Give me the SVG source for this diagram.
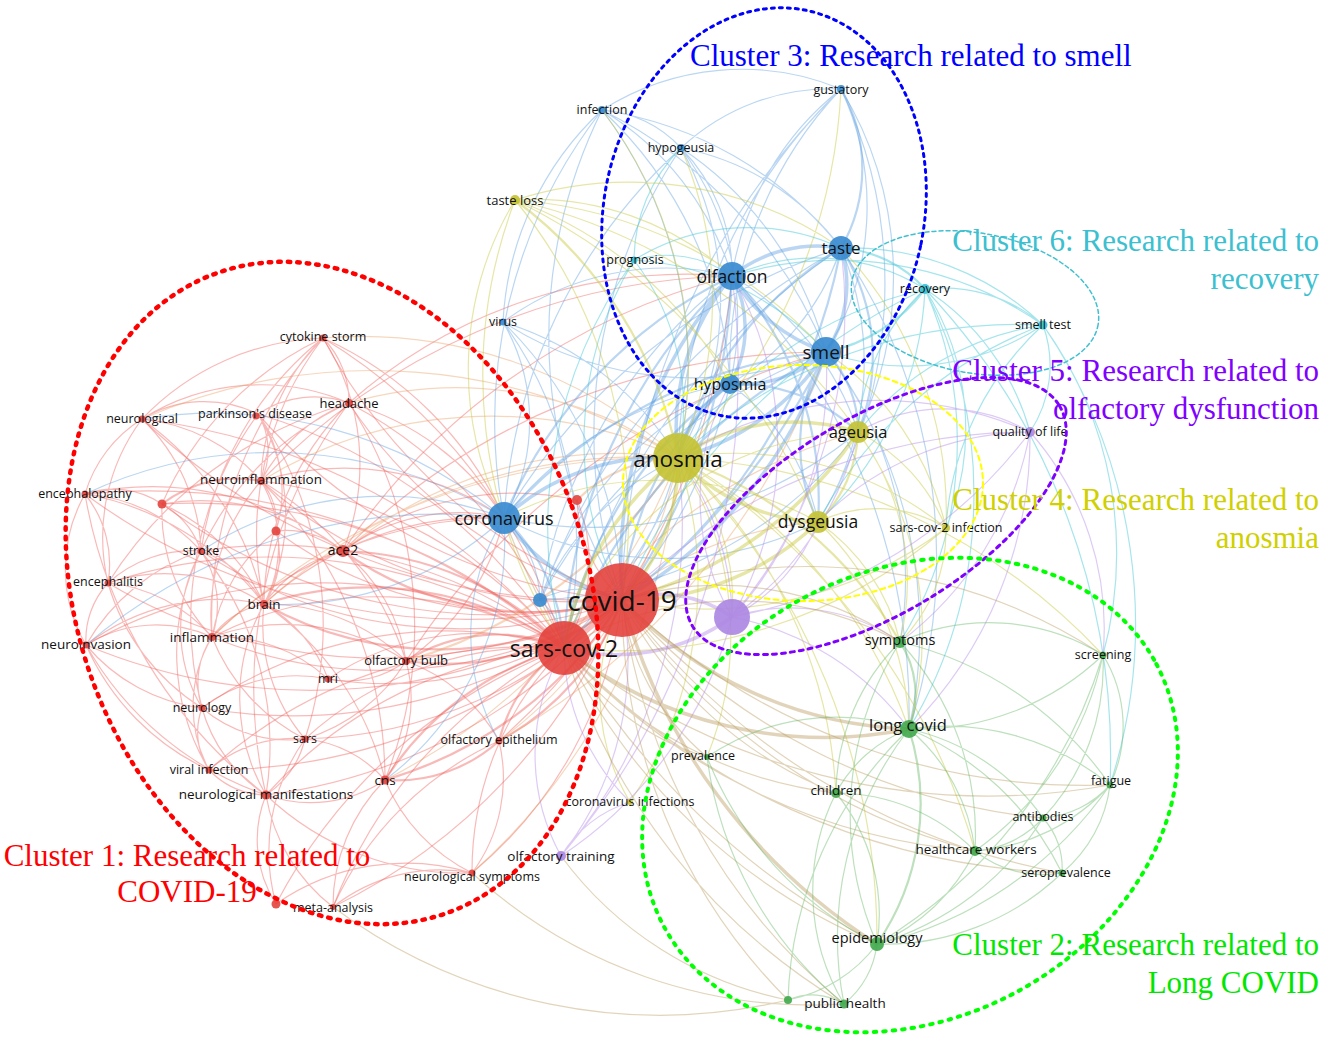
<svg xmlns="http://www.w3.org/2000/svg" width="1325" height="1042" viewBox="0 0 1325 1042">
<style>
.e path{fill:none;stroke-width:1.2}
.e path.w{stroke-width:3.5}
.e path.m{stroke-width:2.2}
.er path{stroke:#ef5a55;stroke-opacity:.42}
.ex path{stroke:#e89a5c;stroke-opacity:.4}
.eb path{stroke:#5a9de0;stroke-opacity:.42}
.ey path{stroke:#c8c83c;stroke-opacity:.45}
.eg path{stroke:#62b462;stroke-opacity:.42}
.ec path{stroke:#45c8d8;stroke-opacity:.48}
.ep path{stroke:#b48ce8;stroke-opacity:.45}
.eo path{stroke:#b8985a;stroke-opacity:.42}
text{font-family:"Open Sans","DejaVu Sans",sans-serif;fill:#111;text-anchor:middle}
.s12{font-size:12.5px}.s13{font-size:13px}.s135{font-size:13.5px}.s14{font-size:14px}.s145{font-size:14.5px}.s16{font-size:16px}.s165{font-size:16.5px}.s17{font-size:17px}
.nr{fill:#e3423d;fill-opacity:.9}
.nb{fill:#3a8bd0;fill-opacity:.92}
.ny{fill:#c4c232;fill-opacity:.9}
.ng{fill:#3fa84a;fill-opacity:.9}
.np{fill:#ad88e2;fill-opacity:.92}
.nc{fill:#35c2d6;fill-opacity:.92}
.cl{fill:none;stroke-linecap:round}
text.ct{font-family:"Liberation Serif","Times New Roman",serif;font-size:31px}
text.c1{fill:#ff0000}
text.c2{fill:#00e600;text-anchor:end}
text.c3{fill:#0000ff;text-anchor:start}
text.c4{fill:#d0d000;text-anchor:end}
text.c5{fill:#7f00ff;text-anchor:end}
text.c6{fill:#3cc0d0;text-anchor:end}
</style>
<g id="connectors" class="e">
<g class="er">
<path class="w" d="M622 600L564 648"/>
<path d="M622 600A561 561 0 0 1 323 338M622 600A470 470 0 0 1 349 403M622 600A661 661 0 0 1 142 419M622 600A550 550 0 0 1 258 414M622 600A480 480 0 0 1 261 481M622 600A643 643 0 0 1 85 494M622 600A556 556 0 0 1 162 504M622 600A415 415 0 0 1 276 531M622 600A470 470 0 0 1 201 551M622 600A531 531 0 0 1 108 583M622 600A581 581 0 0 1 86 645M622 600A447 447 0 0 1 212 637M622 600A373 373 0 0 1 328 679M622 600A528 528 0 0 1 202 708M622 600A456 456 0 0 1 305 739M622 600A583 583 0 0 1 209 770M622 600A551 551 0 0 1 266 795M622 600A596 596 0 0 1 333 907M622 600A423 423 0 0 1 472 873M622 600A145 145 0 0 1 577 500"/>
<path class="m" d="M622 600A328 328 0 0 1 343 551M622 600A362 362 0 0 1 264 604M622 600A277 277 0 0 1 406 661M622 600A264 264 0 0 1 499 741M622 600A417 417 0 0 1 385 780"/>
<path d="M564 648A551 551 0 0 0 323 338M564 648A460 460 0 0 0 349 403M564 648A651 651 0 0 0 142 419M564 648A540 540 0 0 0 258 414M564 648A470 470 0 0 0 261 481M564 648A633 633 0 0 0 85 494M564 648A546 546 0 0 0 162 504M564 648A460 460 0 0 0 201 551M564 648A521 521 0 0 0 108 583M564 648A481 481 0 0 0 86 645M564 648A363 363 0 0 0 212 637M564 648A267 267 0 0 0 328 679M564 648A422 422 0 0 0 202 708M564 648A350 350 0 0 0 305 739M564 648A477 477 0 0 0 209 770M564 648A445 445 0 0 0 266 795M564 648A490 490 0 0 0 333 907M564 648A317 317 0 0 0 472 873M564 648A544 544 0 0 0 276 904M577 500A161 161 0 0 1 564 648"/>
<path class="m" d="M564 648A318 318 0 0 0 343 551M564 648A344 344 0 0 0 264 604M564 648A171 171 0 0 0 406 661M564 648A158 158 0 0 0 499 741M564 648A311 311 0 0 0 385 780"/>
<path d="M142 419A121 121 0 0 1 258 414M142 419A132 132 0 0 0 85 494M142 419A191 191 0 0 1 201 551M142 419A181 181 0 0 1 261 481M142 419A223 223 0 0 1 349 403M142 419A198 198 0 0 0 108 583M142 419A307 307 0 0 1 264 604M323 338A91 91 0 0 1 349 403M323 338A205 205 0 0 0 261 481M323 338A335 335 0 0 0 201 551M323 338A327 327 0 0 0 162 504M323 338A233 233 0 0 1 343 551M323 338A325 325 0 0 0 264 604M323 338A410 410 0 0 0 212 637M323 338A262 262 0 0 0 142 419M349 403A166 166 0 0 0 261 481M349 403A102 102 0 0 0 258 414M349 403A286 286 0 0 0 264 604M349 403A296 296 0 0 0 201 551M349 403A421 421 0 0 0 108 583M349 403A475 475 0 0 0 266 795M349 403A413 413 0 0 1 385 780M258 414A70 70 0 0 1 261 481M258 414A135 135 0 0 1 276 531M258 414A196 196 0 0 1 264 604M258 414A350 350 0 0 0 202 708M258 414A372 372 0 0 1 305 739M261 481A65 65 0 0 1 276 531M261 481A126 126 0 0 1 264 604M261 481A205 205 0 0 0 212 637M261 481A423 423 0 0 1 385 780M261 481A325 325 0 0 1 406 661M85 494A87 87 0 0 1 162 504M85 494A173 173 0 0 1 201 551M85 494A112 112 0 0 1 108 583M85 494A289 289 0 0 1 264 604M85 494A152 152 0 0 0 86 645M85 494A482 482 0 0 0 266 795M85 494A315 315 0 0 1 343 551M162 504A86 86 0 0 1 201 551M162 504A202 202 0 0 1 264 604M162 504A183 183 0 0 0 212 637M162 504A228 228 0 0 1 343 551M276 531A85 85 0 0 1 264 604M276 531A87 87 0 0 1 343 551M276 531A170 170 0 0 0 212 637M201 551A125 125 0 0 0 108 583M201 551A116 116 0 0 1 264 604M201 551A97 97 0 0 1 212 637M201 551A209 209 0 0 0 86 645M201 551A158 158 0 0 0 202 708M201 551A309 309 0 0 1 266 795M201 551A227 227 0 0 0 209 770M108 583A84 84 0 0 0 86 645M108 583A177 177 0 0 1 264 604M108 583A158 158 0 0 1 212 637M108 583A219 219 0 0 0 202 708M264 604A85 85 0 0 0 212 637M264 604A199 199 0 0 1 406 661M264 604A139 139 0 0 1 328 679M264 604A176 176 0 0 0 305 739M264 604A297 297 0 0 1 385 780M264 604A193 193 0 0 0 266 795M264 604A132 132 0 0 1 343 551M86 645A134 134 0 0 1 212 637M86 645A179 179 0 0 0 202 708M86 645A248 248 0 0 0 209 770M86 645A330 330 0 0 0 266 795M86 645A219 219 0 0 1 264 604M212 637A218 218 0 0 1 406 661M212 637A81 81 0 0 0 202 708M212 637A158 158 0 0 1 328 679M212 637A195 195 0 0 0 305 739M212 637A136 136 0 0 0 209 770M406 661A96 96 0 0 1 328 679M406 661A173 173 0 0 1 499 741M406 661A140 140 0 0 1 385 780M406 661A173 173 0 0 0 343 551M406 661A179 179 0 0 1 305 739M202 708A134 134 0 0 0 305 739M202 708A69 69 0 0 0 209 770M202 708A151 151 0 0 0 266 795M202 708A155 155 0 0 1 328 679M305 739A121 121 0 0 1 385 780M305 739A95 95 0 0 1 266 795M305 739A127 127 0 0 0 209 770M499 741A159 159 0 0 1 472 873M209 770A82 82 0 0 0 266 795M385 780A134 134 0 0 1 266 795M385 780A180 180 0 0 0 472 873M266 795A179 179 0 0 0 333 907M266 795A119 119 0 0 0 276 904M266 795A284 284 0 0 0 472 873M333 907A173 173 0 0 1 472 873M276 904A227 227 0 0 1 472 873M333 907A179 179 0 0 1 385 780M276 904A194 194 0 0 1 305 739M333 907A332 332 0 0 1 499 741M343 551A285 285 0 0 1 577 500"/>
<path class="m" d="M261 481A122 122 0 0 0 162 504M499 741A153 153 0 0 1 385 780"/>
<path d="M261 481A280 280 0 0 1 504 518M349 403A270 270 0 0 1 504 518M323 338A361 361 0 0 1 504 518M343 551A194 194 0 0 1 504 518M406 661A241 241 0 0 0 504 518M264 604A326 326 0 0 1 504 518M212 637A411 411 0 0 1 504 518M261 481A676 676 0 0 1 732 276M349 403A510 510 0 0 1 732 276M343 551A664 664 0 0 1 732 276M343 551A682 682 0 0 1 826 352M406 661A729 729 0 0 1 826 352M499 741A698 698 0 0 0 732 276"/>
</g>
<g class="ex">
<path class="m" d="M577 500A143 143 0 0 1 678 458M406 661A475 475 0 0 0 678 458"/>
<path d="M261 481A440 440 0 0 1 678 458M349 403A384 384 0 0 1 678 458M499 741A462 462 0 0 0 678 458M323 338A475 475 0 0 1 678 458M264 604A560 560 0 0 1 678 458M385 780A615 615 0 0 0 678 458M142 419A575 575 0 0 1 678 458M564 648A510 510 0 0 1 858 432M564 648A380 380 0 0 1 818 522M499 741A716 716 0 0 0 826 352M343 551A430 430 0 0 1 678 458M472 873A620 620 0 0 0 678 458M212 637A650 650 0 0 1 678 458"/>
</g>
<g class="eb">
<path class="w" d="M732 276A137 137 0 0 1 841 248M732 276A170 170 0 0 0 826 352M732 276A110 110 0 0 1 730 384M841 248A119 119 0 0 1 826 352M826 352A128 128 0 0 1 730 384M732 276A236 236 0 0 0 678 458M826 352A254 254 0 0 1 678 458M730 384A126 126 0 0 0 678 458M732 276A434 434 0 0 0 622 600M826 352A452 452 0 0 1 622 600M504 518A200 200 0 0 0 622 600M504 518A234 234 0 0 1 678 458"/>
<path class="m" d="M841 89A159 159 0 0 1 841 248M841 248A201 201 0 0 1 858 432M826 352A112 112 0 0 1 858 432M826 352A178 178 0 0 0 818 522M564 648A540 540 0 0 1 732 276M564 648A558 558 0 0 1 826 352M730 384A324 324 0 0 0 622 600M841 248A571 571 0 0 1 622 600M504 518A190 190 0 0 1 564 648M564 648A430 430 0 0 1 730 384M504 518A470 470 0 0 1 732 276M504 518A488 488 0 0 1 826 352M841 248A373 373 0 0 0 678 458M622 600A600 600 0 0 0 732 276M622 600A700 700 0 0 0 826 352M732 276A332 332 0 0 1 818 522M730 384A176 176 0 0 1 858 432"/>
<path d="M841 248A247 247 0 0 1 730 384M504 518A607 607 0 0 1 841 248M504 518A360 360 0 0 1 730 384M504 518A197 197 0 0 0 503 322M504 518A506 506 0 0 1 602 110M504 518A547 547 0 0 1 681 148M540 600A82 82 0 0 1 622 600M540 600A516 516 0 0 1 732 276M540 600A534 534 0 0 1 826 352M540 600A653 653 0 0 1 841 248M540 600A72 72 0 0 1 564 648M540 600A280 280 0 0 1 678 458M540 600A118 118 0 0 0 504 518M540 600A380 380 0 0 1 730 384M602 110A296 296 0 0 1 732 276M602 110A377 377 0 0 1 841 248M602 110A466 466 0 0 1 826 352M602 110A117 117 0 0 1 681 148M602 110A260 260 0 0 1 841 89M602 110A510 510 0 0 0 622 600M602 110A402 402 0 0 1 730 384M602 110A311 311 0 0 0 503 322M602 110A424 424 0 0 1 678 458M841 89A296 296 0 0 0 732 276M841 89A278 278 0 0 1 826 352M841 89A406 406 0 0 0 730 384M841 89A532 532 0 0 0 678 458M841 89A219 219 0 0 0 681 148M841 89A730 730 0 0 0 622 600M841 89A456 456 0 0 1 818 522M841 89A360 360 0 0 1 858 432M681 148A179 179 0 0 1 732 276M681 148A260 260 0 0 1 841 248M681 148A349 349 0 0 1 826 352M681 148A285 285 0 0 1 730 384M681 148A313 313 0 0 1 678 458M681 148A511 511 0 0 0 622 600M503 322A397 397 0 0 1 622 600M503 322A387 387 0 0 1 564 648M503 322A275 275 0 0 1 732 276M503 322A353 353 0 0 0 826 352M503 322A311 311 0 0 1 678 458M841 248A297 297 0 0 1 818 522M732 276A282 282 0 0 1 858 432M730 384A226 226 0 0 1 818 522M564 648A677 677 0 0 1 841 248M826 352A460 460 0 0 1 909 729M826 352A364 364 0 0 1 900 642M841 248A549 549 0 0 1 909 729M732 276A630 630 0 0 1 909 729M504 518A455 455 0 0 0 142 419M504 518A443 443 0 0 0 85 494M504 518A336 336 0 0 0 201 551M504 518A326 326 0 0 1 264 604M504 518A545 545 0 0 0 86 645M504 518A302 302 0 0 1 385 780M504 518A218 218 0 0 0 499 741M564 648A380 380 0 0 0 678 458M540 600A420 420 0 0 0 858 432M564 648A620 620 0 0 0 732 276M622 600A520 520 0 0 0 730 384M504 518A420 420 0 0 0 858 432M504 518A340 340 0 0 0 818 522"/>
</g>
<g class="ec">
<path class="m" d="M841 248A125 125 0 0 1 925 289M826 352A162 162 0 0 0 925 289"/>
<path d="M732 276A206 206 0 0 1 925 289M841 248A279 279 0 0 1 1043 325M826 352A244 244 0 0 0 1043 325M732 276A360 360 0 0 1 1043 325M634 260A114 114 0 0 1 732 276M634 260A219 219 0 0 1 841 248M634 260A284 284 0 0 1 826 352M634 260A242 242 0 0 1 678 458M634 260A352 352 0 0 0 622 600M634 260A458 458 0 0 0 564 648M681 148A159 159 0 0 0 634 260M925 289A416 416 0 0 0 678 458M925 289A614 614 0 0 0 622 600M925 289A210 210 0 0 0 858 432M925 289A340 340 0 0 1 818 522M925 289A154 154 0 0 1 1043 325M925 289A248 248 0 0 1 1030 432M1043 325A292 292 0 0 0 858 432M1043 325A422 422 0 0 0 818 522M1043 325A498 498 0 0 0 678 458M1043 325A120 120 0 0 1 1030 432M1043 325A390 390 0 0 1 1103 655M925 289A456 456 0 0 1 909 729M925 289A378 378 0 0 1 900 642M925 289A681 681 0 0 1 1110 785M1043 325A527 527 0 0 1 1110 785M925 289A260 260 0 0 1 946 528M1043 325A300 300 0 0 0 946 528"/>
</g>
<g class="ey">
<path class="w" d="M678 458A198 198 0 0 1 622 600M678 458A304 304 0 0 0 564 648M678 458A206 206 0 0 1 858 432M678 458A204 204 0 0 0 818 522M858 432A404 404 0 0 1 622 600M818 522A274 274 0 0 1 622 600"/>
<path class="m" d="M858 432A130 130 0 0 1 818 522M678 458A406 406 0 0 1 900 642M515 200A421 421 0 0 1 678 458"/>
<path d="M515 200A507 507 0 0 1 622 600M515 200A497 497 0 0 0 564 648M515 200A293 293 0 0 1 732 276M515 200A374 374 0 0 1 841 248M515 200A463 463 0 0 1 826 352M515 200A329 329 0 0 0 504 518M515 200A575 575 0 0 1 858 432M515 200A625 625 0 0 1 818 522M515 200A399 399 0 0 1 730 384M946 528A338 338 0 0 0 678 458M946 528A396 396 0 0 1 622 600M946 528A184 184 0 0 0 858 432M946 528A134 134 0 0 0 818 522M946 528A296 296 0 0 0 826 352M946 528A385 385 0 0 0 841 248M946 528A502 502 0 0 1 564 648M946 528A158 158 0 0 1 900 642M678 458A213 213 0 0 1 732 617M678 458A502 502 0 0 1 909 729M818 522A202 202 0 0 1 900 642M858 432A252 252 0 0 1 900 642M818 522A298 298 0 0 1 909 729M858 432A348 348 0 0 1 909 729M630 802A392 392 0 0 0 678 458M630 802A210 210 0 0 1 622 600M707 757A324 324 0 0 0 678 458M678 458A493 493 0 0 1 836 793M678 458A685 685 0 0 1 877 944M678 458A690 690 0 0 1 975 851M678 458A622 622 0 0 1 1103 655M678 458A420 420 0 0 0 602 110M678 458A560 560 0 0 0 841 89M678 458A380 380 0 0 0 681 148M858 432A320 320 0 0 0 564 648M818 522A330 330 0 0 0 504 518"/>
</g>
<g class="ep">
<path class="w" d="M732 617A127 127 0 0 0 622 600M732 617A199 199 0 0 1 564 648"/>
<path d="M732 617A311 311 0 0 0 858 432M732 617A181 181 0 0 0 818 522M858 432A172 172 0 0 1 1030 432M818 522A302 302 0 0 1 1030 432M678 458A378 378 0 0 1 1030 432M732 617A483 483 0 0 0 1030 432M732 617A410 410 0 0 1 561 856M561 856A317 317 0 0 0 622 600M561 856A211 211 0 0 1 564 648M561 856A515 515 0 0 0 678 458M561 856A751 751 0 0 0 732 276M732 617A359 359 0 0 0 826 352M732 617A341 341 0 0 0 732 276M732 617A235 235 0 0 1 730 384M732 617A478 478 0 0 0 841 248M732 617A289 289 0 0 1 909 729M732 617A193 193 0 0 1 900 642M1030 432A414 414 0 0 1 909 729M1030 432A340 340 0 0 1 900 642M1030 432A296 296 0 0 1 1103 655M1030 432A576 576 0 0 0 622 600M630 802A123 123 0 0 0 561 856M630 802A220 220 0 0 1 564 648M732 617A270 270 0 0 0 678 458"/>
</g>
<g class="eo">
<path class="w" d="M622 600A416 416 0 0 0 909 729M622 600A599 599 0 0 0 877 944M564 648A426 426 0 0 0 909 729"/>
<path d="M622 600A320 320 0 0 1 900 642M622 600A536 536 0 0 1 1103 655M622 600A407 407 0 0 0 836 793M622 600A673 673 0 0 0 1110 785M622 600A639 639 0 0 0 1043 818M622 600A604 604 0 0 0 975 851M622 600A713 713 0 0 0 1062 873M622 600A626 626 0 0 0 844 1004M622 600A566 566 0 0 0 788 1000M622 600A242 242 0 0 0 707 757M564 648A609 609 0 0 0 877 944M564 648A614 614 0 0 0 975 851M564 648A417 417 0 0 0 836 793M564 648A636 636 0 0 0 844 1004M564 648A342 342 0 0 1 900 642M564 648A683 683 0 0 0 1110 785M564 648A723 723 0 0 0 1062 873M564 648A252 252 0 0 0 707 757M472 873A503 503 0 0 0 844 1004M561 856A371 371 0 0 0 788 1000M504 518A799 799 0 0 0 877 944M788 1000A548 548 0 0 1 333 907"/>
</g>
<g class="eg">
<path class="m" d="M900 642A96 96 0 0 1 909 729M909 729A247 247 0 0 1 877 944"/>
<path d="M900 642A216 216 0 0 1 1103 655M900 642A353 353 0 0 1 1110 785M900 642A325 325 0 0 0 877 944M900 642A215 215 0 0 0 836 793M900 642A284 284 0 0 1 975 851M909 729A137 137 0 0 0 836 793M909 729A257 257 0 0 1 1110 785M909 729A223 223 0 0 1 1043 818M909 729A188 188 0 0 1 975 851M909 729A340 340 0 0 0 844 1004M909 729A268 268 0 0 0 1103 655M909 729A297 297 0 0 1 1062 873M909 729A392 392 0 0 0 788 1000M836 793A192 192 0 0 1 877 944M836 793A197 197 0 0 1 975 851M836 793A219 219 0 0 0 844 1004M975 851A101 101 0 0 0 1043 818M975 851A109 109 0 0 0 1062 873M975 851A191 191 0 0 1 877 944M975 851A201 201 0 0 0 1110 785M1043 818A74 74 0 0 1 1062 873M1043 818A223 223 0 0 0 1103 655M1110 785A137 137 0 0 0 1103 655M877 944A93 93 0 0 1 844 1004M877 944A145 145 0 0 1 788 1000M788 1000A60 60 0 0 1 844 1004M877 944A292 292 0 0 0 1043 818M877 944A256 256 0 0 0 1062 873M1103 655A515 515 0 0 1 877 944M1110 785A392 392 0 0 1 877 944M707 757A230 230 0 0 1 909 729M707 757A357 357 0 0 0 877 944M707 757A384 384 0 0 0 844 1004M1110 785A100 100 0 0 1 1043 818M1062 873A136 136 0 0 0 1110 785M1103 655A324 324 0 0 1 975 851"/>
</g>
</g>
<g id="node-covid-19"><circle class="nr" cx="622" cy="600" r="37"/><text x="622" y="611" style="font-size:28px">covid-19</text></g>
<g id="node-sars-cov-2"><circle class="nr" cx="564" cy="648" r="27"/><text x="564" y="657" style="font-size:23px">sars-cov-2</text></g>
<g id="node-ace2"><circle class="nr" cx="343" cy="551" r="6"/><text class="s14" x="343" y="555">ace2</text></g>
<g id="node-red-a"><circle class="nr" cx="577" cy="500" r="5"/></g>
<g id="node-red-b"><circle class="nr" cx="162" cy="504" r="4.5"/></g>
<g id="node-red-c"><circle class="nr" cx="276" cy="531" r="4.5"/></g>
<g id="node-red-d"><circle class="nr" cx="276" cy="904" r="4.5"/></g>
<g id="node-cytokine-storm"><circle class="nr" cx="323" cy="338" r="3.5"/><text class="s12" x="323" y="341">cytokine storm</text></g>
<g id="node-headache"><circle class="nr" cx="349" cy="403" r="4"/><text class="s13" x="349" y="408">headache</text></g>
<g id="node-neurological"><circle class="nr" cx="142" cy="419" r="3.5"/><text class="s12" x="142" y="423">neurological</text></g>
<g id="node-parkinsons-disease"><circle class="nr" cx="256" cy="416" r="3.5"/><text class="s12" x="255" y="418">parkinson's disease</text></g>
<g id="node-neuroinflammation"><circle class="nr" cx="261" cy="481" r="4"/><text class="s135" x="261" y="484">neuroinflammation</text></g>
<g id="node-encephalopathy"><circle class="nr" cx="85" cy="494" r="3.5"/><text class="s12" x="85" y="498">encephalopathy</text></g>
<g id="node-stroke"><circle class="nr" cx="201" cy="551" r="3.5"/><text class="s12" x="201" y="555">stroke</text></g>
<g id="node-encephalitis"><circle class="nr" cx="108" cy="583" r="3.5"/><text class="s12" x="108" y="586">encephalitis</text></g>
<g id="node-brain"><circle class="nr" cx="264" cy="604" r="4"/><text class="s135" x="264" y="609">brain</text></g>
<g id="node-neuroinvasion"><circle class="nr" cx="86" cy="645" r="3.5"/><text class="s135" x="86" y="649">neuroinvasion</text></g>
<g id="node-inflammation"><circle class="nr" cx="212" cy="637" r="4"/><text class="s135" x="212" y="642">inflammation</text></g>
<g id="node-olfactory-bulb"><circle class="nr" cx="406" cy="661" r="4"/><text class="s13" x="406" y="665">olfactory bulb</text></g>
<g id="node-mri"><circle class="nr" cx="328" cy="679" r="3.5"/><text class="s12" x="328" y="683">mri</text></g>
<g id="node-neurology"><circle class="nr" cx="202" cy="708" r="3.5"/><text class="s12" x="202" y="712">neurology</text></g>
<g id="node-sars"><circle class="nr" cx="305" cy="739" r="3.5"/><text class="s12" x="305" y="743">sars</text></g>
<g id="node-olfactory-epithelium"><circle class="nr" cx="499" cy="741" r="3.5"/><text class="s12" x="499" y="744">olfactory epithelium</text></g>
<g id="node-viral-infection"><circle class="nr" cx="209" cy="770" r="3.5"/><text class="s12" x="209" y="774">viral infection</text></g>
<g id="node-cns"><circle class="nr" cx="385" cy="780" r="4.5"/><text class="s135" x="385" y="785">cns</text></g>
<g id="node-neurological-manifestations"><circle class="nr" cx="266" cy="795" r="4.5"/><text class="s135" x="266" y="799">neurological manifestations</text></g>
<g id="node-meta-analysis"><circle class="nr" cx="333" cy="907" r="3"/><text class="s12" x="333" y="912">meta-analysis</text></g>
<g id="node-neurological-symptoms"><circle class="nr" cx="472" cy="873" r="3.5"/><text class="s12" x="472" y="881">neurological symptoms</text></g>
<g id="node-coronavirus"><circle class="nb" cx="504" cy="518" r="16"/><text x="504" y="525" style="font-size:18px">coronavirus</text></g>
<g id="node-blue-a"><circle class="nb" cx="540" cy="600" r="7"/></g>
<g id="node-olfaction"><circle class="nb" cx="732" cy="276" r="14"/><text x="732" y="283" style="font-size:17.5px">olfaction</text></g>
<g id="node-taste"><circle class="nb" cx="841" cy="248" r="12"/><text class="s17" x="841" y="254">taste</text></g>
<g id="node-smell"><circle class="nb" cx="826" cy="352" r="15"/><text x="826" y="359" style="font-size:19px">smell</text></g>
<g id="node-hyposmia"><circle class="nb" cx="730" cy="384" r="10"/><text class="s16" x="730" y="390">hyposmia</text></g>
<g id="node-infection"><circle class="nb" cx="602" cy="110" r="4"/><text class="s12" x="602" y="114">infection</text></g>
<g id="node-gustatory"><circle class="nb" cx="841" cy="89" r="4"/><text class="s12" x="841" y="94">gustatory</text></g>
<g id="node-hypogeusia"><circle class="nb" cx="681" cy="148" r="4"/><text class="s12" x="681" y="152">hypogeusia</text></g>
<g id="node-virus"><circle class="nb" cx="503" cy="322" r="3.5"/><text class="s12" x="503" y="326">virus</text></g>
<g id="node-prognosis"><circle class="nc" cx="634" cy="260" r="3.5"/><text class="s12" x="635" y="264">prognosis</text></g>
<g id="node-recovery"><circle class="nc" cx="925" cy="289" r="5"/><text class="s12" x="925" y="293">recovery</text></g>
<g id="node-smell-test"><circle class="nc" cx="1043" cy="325" r="4.5"/><text class="s12" x="1043" y="329">smell test</text></g>
<g id="node-anosmia"><circle class="ny" cx="678" cy="458" r="25"/><text x="678" y="467" style="font-size:22.5px">anosmia</text></g>
<g id="node-ageusia"><circle class="ny" cx="858" cy="432" r="11"/><text class="s165" x="858" y="438">ageusia</text></g>
<g id="node-dysgeusia"><circle class="ny" cx="818" cy="522" r="11"/><text x="818" y="528" style="font-size:17.5px">dysgeusia</text></g>
<g id="node-sars-cov-2-infection"><circle class="ny" cx="946" cy="528" r="4"/><text class="s12" x="946" y="532">sars-cov-2 infection</text></g>
<g id="node-taste-loss"><circle class="ny" cx="515" cy="200" r="5"/><text class="s13" x="515" y="205">taste loss</text></g>
<g id="node-coronavirus-infections"><circle class="ny" cx="630" cy="802" r="3"/><text class="s12" x="630" y="806">coronavirus infections</text></g>
<g id="node-purple-a"><circle class="np" cx="732" cy="617" r="18"/></g>
<g id="node-quality-of-life"><circle class="np" cx="1030" cy="432" r="5"/><text class="s12" x="1030" y="436">quality of life</text></g>
<g id="node-olfactory-training"><circle class="np" cx="561" cy="856" r="5"/><text class="s135" x="561" y="861">olfactory training</text></g>
<g id="node-symptoms"><circle class="ng" cx="900" cy="642" r="6"/><text class="s145" x="900" y="645">symptoms</text></g>
<g id="node-long-covid"><circle class="ng" cx="909" cy="729" r="9"/><text class="s165" x="908" y="731">long covid</text></g>
<g id="node-screening"><circle class="ng" cx="1103" cy="655" r="3.5"/><text class="s12" x="1103" y="659">screening</text></g>
<g id="node-children"><circle class="ng" cx="836" cy="793" r="5"/><text class="s135" x="836" y="795">children</text></g>
<g id="node-fatigue"><circle class="ng" cx="1110" cy="785" r="3.5"/><text class="s12" x="1111" y="785">fatigue</text></g>
<g id="node-antibodies"><circle class="ng" cx="1043" cy="818" r="3.5"/><text class="s12" x="1043" y="821">antibodies</text></g>
<g id="node-healthcare-workers"><circle class="ng" cx="975" cy="851" r="5"/><text class="s135" x="976" y="854">healthcare workers</text></g>
<g id="node-seroprevalence"><circle class="ng" cx="1062" cy="873" r="3.5"/><text class="s12" x="1066" y="877">seroprevalence</text></g>
<g id="node-epidemiology"><circle class="ng" cx="877" cy="944" r="7"/><text class="s145" x="877" y="943">epidemiology</text></g>
<g id="node-public-health"><circle class="ng" cx="844" cy="1004" r="4.5"/><text class="s135" x="845" y="1008">public health</text></g>
<g id="node-green-a"><circle class="ng" cx="788" cy="1000" r="4"/></g>
<g id="node-prevalence"><circle class="ng" cx="707" cy="757" r="3"/><text class="s12" x="703" y="760">prevalence</text></g>
<g id="clusters">
<ellipse class="cl" cx="975" cy="303" rx="125" ry="70" transform="rotate(10 975 303)" stroke="#40c0d0" stroke-width="1.5" stroke-dasharray="4 3"/>
<ellipse class="cl" cx="803" cy="483" rx="180" ry="118" stroke="#ffff00" stroke-width="2" stroke-dasharray="5 4"/>
<ellipse class="cl" cx="876" cy="516" rx="214" ry="98" transform="rotate(-31 876 516)" stroke="#7f00ff" stroke-width="3" stroke-dasharray="4 5"/>
<ellipse class="cl" cx="764" cy="213" rx="160" ry="207" transform="rotate(12 764 213)" stroke="#0000ff" stroke-width="3" stroke-dasharray="3 5"/>
<ellipse class="cl" cx="910" cy="795" rx="279" ry="224" transform="rotate(-28 910 795)" stroke="#00ff00" stroke-width="4" stroke-dasharray="2.5 7"/>
<ellipse class="cl" cx="332" cy="593" rx="255" ry="340" transform="rotate(-20 332 593)" stroke="#ff0000" stroke-width="4.5" stroke-dasharray="2.5 7"/>
<text class="ct c3" x="690" y="66">Cluster 3: Research related to smell</text>
<text class="ct c6" x="1319" y="251">Cluster 6: Research related to</text>
<text class="ct c6" x="1319" y="289">recovery</text>
<text class="ct c5" x="1319" y="381">Cluster 5: Research related to</text>
<text class="ct c5" x="1319" y="419">olfactory dysfunction</text>
<text class="ct c4" x="1319" y="510">Cluster 4: Research related to</text>
<text class="ct c4" x="1319" y="548">anosmia</text>
<text class="ct c2" x="1319" y="955">Cluster 2: Research related to</text>
<text class="ct c2" x="1319" y="993">Long COVID</text>
<text class="ct c1" x="187" y="866">Cluster 1: Research related to</text>
<text class="ct c1" x="187" y="902">COVID-19</text>
</g>
</svg>
